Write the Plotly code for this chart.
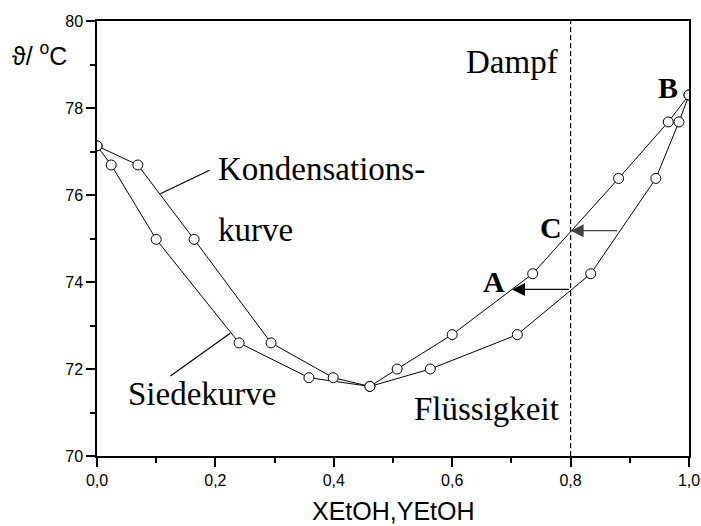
import plotly.graph_objects as go

# Siedekurve (liquid)
x_siede = [0.0, 0.024, 0.100, 0.240, 0.358, 0.461, 0.563, 0.710, 0.834, 0.944, 0.983, 1.0]
y_siede = [77.13, 76.69, 74.98, 72.60, 71.80, 71.60, 72.00, 72.79, 74.19, 76.38, 77.68, 78.30]
# Kondensationskurve (vapor)
x_kond = [0.0, 0.069, 0.164, 0.294, 0.399, 0.461, 0.507, 0.600, 0.736, 0.881, 0.965, 1.0]
y_kond = [77.13, 76.69, 74.98, 72.60, 71.80, 71.60, 72.00, 72.79, 74.19, 76.38, 77.68, 78.30]

x_ticks = [0.0, 0.2, 0.4, 0.6, 0.8, 1.0]
y_ticks = [70, 72, 74, 76, 78, 80]

x_dashed = 0.8
# arrows: (tail_x, tail_y, tip_x, tip_y)
arrow_C = (0.881, 75.18, 0.800, 75.18)
arrow_A = (0.800, 73.83, 0.701, 73.83)
# leader lines
lead_kond = (0.190, 76.57, 0.107, 76.03)
lead_siede = (0.124, 71.84, 0.225, 72.82)

fig = go.Figure()
for xs, ys in [(x_siede, y_siede), (x_kond, y_kond)]:
    fig.add_trace(go.Scatter(
        x=xs, y=ys, mode="lines+markers",
        line=dict(color="black", width=1),
        marker=dict(symbol="circle", size=10, color="white",
                    line=dict(color="black", width=1)),
        showlegend=False, hoverinfo="skip"))

serif = dict(family="Liberation Serif", size=33, color="black")
bold = dict(family="Liberation Serif", size=30, color="black")

ann = []
def txt(x, y, t, font, xanchor="left", xref="x", yref="y"):
    ann.append(dict(x=x, y=y, text=t, showarrow=False, xref=xref, yref=yref,
                    xanchor=xanchor, yanchor="middle", font=font))

txt(0.620, 79.06, "Dampf", serif)
txt(0.532, 71.09, "Flüssigkeit", serif)
txt(0.201, 76.60, "Kondensations-", serif)
txt(0.201, 75.19, "kurve", serif)
txt(0.049, 71.42, "Siedekurve", serif)
txt(0.7665, 75.25, "<b>C</b>", bold, xanchor="center")
txt(0.670, 74.02, "<b>A</b>", bold, xanchor="center")
txt(0.9645, 78.48, "<b>B</b>", bold, xanchor="center")

for (tx, ty, hx, hy), col in [(arrow_C, "#444444"), (arrow_A, "black")]:
    ann.append(dict(x=hx, y=hy, ax=tx, ay=ty, xref="x", yref="y",
                    axref="x", ayref="y", text="", showarrow=True,
                    arrowhead=2, arrowsize=2, arrowwidth=1.3, arrowcolor=col))

# axis titles
ann.append(dict(x=-0.147, y=0.925, xref="paper", yref="paper", text="ϑ/ <sup>o</sup>C",
                showarrow=False, xanchor="left", yanchor="middle",
                font=dict(family="Liberation Sans", size=25, color="black")))
ann.append(dict(x=0.5, y=-0.126, xref="paper", yref="paper", text="XEtOH,YEtOH",
                showarrow=False, xanchor="center", yanchor="middle",
                font=dict(family="Liberation Sans", size=25, color="black")))

shapes = [
    dict(type="line", x0=x_dashed, x1=x_dashed, y0=70, y1=80, xref="x", yref="y",
         line=dict(color="black", width=1.2, dash="5px,3px")),
    dict(type="line", x0=lead_kond[0], y0=lead_kond[1], x1=lead_kond[2], y1=lead_kond[3],
         xref="x", yref="y", line=dict(color="black", width=1.2)),
    dict(type="line", x0=lead_siede[0], y0=lead_siede[1], x1=lead_siede[2], y1=lead_siede[3],
         xref="x", yref="y", line=dict(color="black", width=1.2)),
]

axis_common = dict(showgrid=False, zeroline=False, showline=True, linecolor="black",
                   linewidth=1.5, mirror=True, ticks="outside", ticklen=9, tickwidth=1.5,
                   tickcolor="black", automargin=False,
                   tickfont=dict(family="Liberation Sans", size=16, color="black"))

fig.update_layout(
    width=701, height=526,
    margin=dict(l=97, r=12, t=21, b=70),
    paper_bgcolor="white", plot_bgcolor="white",
    separators=",.",
    annotations=ann, shapes=shapes,
    xaxis=dict(range=[0, 1.0], tickvals=x_ticks, tickformat=".1f",
               minor=dict(dtick=0.1, ticks="outside", ticklen=5, tickwidth=1.5, tickcolor="black"),
               **axis_common),
    yaxis=dict(range=[70, 80], tickvals=y_ticks, tickformat="d",
               minor=dict(dtick=1, ticks="outside", ticklen=5, tickwidth=1.5, tickcolor="black"),
               **axis_common),
)

fig.write_html(
    "out.html",
    config={"responsive": False, "displayModeBar": False},
    post_script="document.body.style.margin='0';document.body.style.overflow='hidden';"
                "document.documentElement.style.overflow='hidden';",
)
